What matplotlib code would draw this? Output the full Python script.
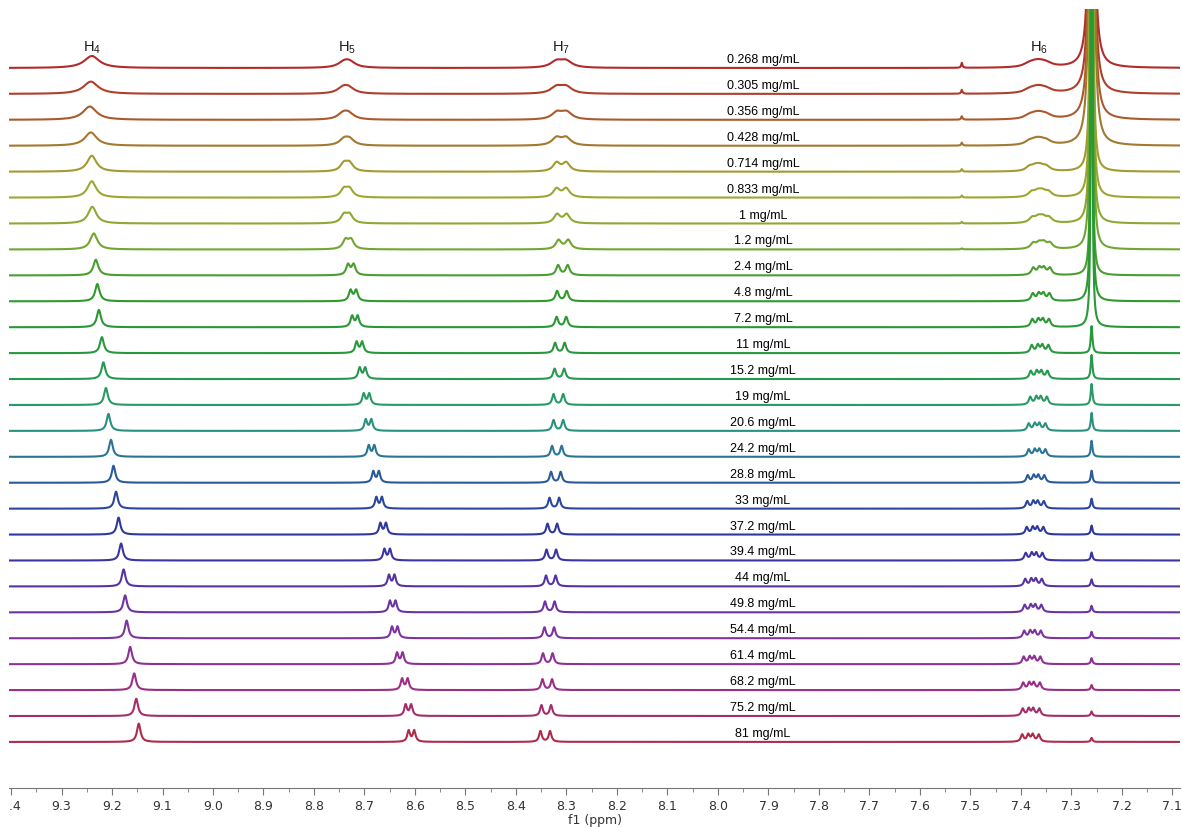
import numpy as np
import matplotlib
matplotlib.use("Agg")
import matplotlib.pyplot as plt
from matplotlib.patches import Rectangle
from matplotlib.ticker import MultipleLocator, FormatStrFormatter

plt.rcParams['mathtext.default'] = 'regular'

# concentration of each trace, top to bottom
conc = ["0.268", "0.305", "0.356", "0.428", "0.714", "0.833", "1", "1.2", "2.4",
        "4.8", "7.2", "11", "15.2", "19", "20.6", "24.2", "28.8", "33", "37.2",
        "39.4", "44", "49.8", "54.4", "61.4", "68.2", "75.2", "81"]

# chemical shifts (ppm)
h4_ppm = [9.240, 9.242, 9.244, 9.242, 9.240, 9.240, 9.239, 9.236, 9.232, 9.229,
          9.226, 9.220, 9.217, 9.212, 9.207, 9.202, 9.197, 9.192, 9.187, 9.182,
          9.177, 9.174, 9.171, 9.164, 9.156, 9.152, 9.147]
h5_ppm = [8.735, 8.737, 8.737, 8.735, 8.735, 8.735, 8.735, 8.732, 8.727, 8.722,
          8.719, 8.710, 8.704, 8.696, 8.692, 8.686, 8.677, 8.671, 8.663, 8.655,
          8.646, 8.644, 8.640, 8.630, 8.620, 8.613, 8.607]
h7_ppm = [8.310, 8.310, 8.309, 8.310, 8.310, 8.310, 8.309, 8.306, 8.307, 8.309,
          8.310, 8.313, 8.314, 8.316, 8.316, 8.319, 8.321, 8.324, 8.328, 8.330,
          8.331, 8.333, 8.334, 8.337, 8.338, 8.340, 8.342]
h6_ppm = [7.366, 7.366, 7.366, 7.366, 7.366, 7.362, 7.361, 7.359, 7.359, 7.360,
          7.361, 7.362, 7.364, 7.365, 7.368, 7.368, 7.370, 7.371, 7.372, 7.374,
          7.375, 7.376, 7.377, 7.378, 7.379, 7.380, 7.381]

# peak width (FWHM, ppm) of each trace
fwhm = [0.028, 0.027, 0.025, 0.022, 0.017, 0.016, 0.015, 0.013, 0.009, 0.008,
        0.0075, 0.007, 0.007, 0.0068, 0.0067, 0.0066, 0.0065, 0.0065, 0.0065,
        0.0065, 0.0065, 0.0065, 0.0065, 0.0065, 0.0065, 0.0065, 0.0065]

# peak heights (same units as the trace spacing)
h4_height = [12, 12.3, 13.3, 13.3, 16, 16.3, 16.7, 16, 15.7, 17.3, 17.3, 16, 16.7,
             17, 17, 17, 17, 17, 17, 17, 17, 17, 17.7, 17.3, 16.7, 17.3, 18.3]
h5_height = [8.7, 9, 9.3, 9.3, 11, 11, 11, 11.5] + [12] * 19
h7_height = [8.7, 9, 9.3, 9.5, 10, 10, 10, 10, 10.5, 10.5, 10.5, 10.5, 10.5] + [11] * 14
h6_height = [8.3, 8.3, 8.3, 8.3, 8.5, 9, 9, 9] + [9.3] * 6 + [8.5] * 13
chcl3_height = [2500, 2500, 2500, 2500, 1800, 1800, 1800, 1800, 900, 900, 700,
                27, 24, 21, 18, 16, 12, 10, 9, 8, 7, 6.5, 6.5, 6, 5, 4.5, 4]
chcl3_fwhm = [0.0035] * 4 + [0.0025] * 7 + [0.004] * 16
small_height = [5, 4, 3.5, 3, 2.5, 2, 1.5, 1] + [0] * 19

# coupling patterns (offsets from centre, ppm)
h5_lines = [-0.0055, 0.0055]
h7_lines = [-0.0095, 0.0095]
h6_lines = [-0.0165, -0.0045, 0.0045, 0.0165]

colors = ["#b22b2b", "#ad3f2b", "#aa5b2d", "#a3782f", "#a39a30", "#9ea631", "#8ea833",
          "#72a633", "#4a9e2f", "#2f9a2d", "#2a9834", "#28983e", "#27984f", "#289a66",
          "#2a9080", "#2a7594", "#2a5a9a", "#2b469c", "#2d389e", "#3c34a0", "#5534a2",
          "#6a34a2", "#7e33a0", "#8e3196", "#9a2f86", "#a22e6c", "#ad2c4a"]


def lorentz(x, x0, w):
    return (w / 2) ** 2 / ((x - x0) ** 2 + (w / 2) ** 2)


def multiplet(x, center, offsets, w, height):
    s = sum(lorentz(x, center + o, w) for o in offsets)
    return height * s / s.max()


x = np.linspace(7.085, 9.404, 9000)

fig = plt.figure(figsize=(11.82, 8.28), dpi=100)
ax = fig.add_axes([9 / 1182, 39 / 828, 1171 / 1182, 779 / 828])
ax.set_xlim(9.404, 7.085)
ax.set_ylim(0, 779)

step = 25.92
for i in range(len(conc)):
    base = 720 - step * i
    w = fwhm[i]
    y = (h4_height[i] * lorentz(x, h4_ppm[i], w * 1.3)
         + multiplet(x, h5_ppm[i], h5_lines, w, h5_height[i])
         + multiplet(x, h7_ppm[i], h7_lines, w, h7_height[i])
         + multiplet(x, h6_ppm[i], h6_lines, w, h6_height[i])
         + chcl3_height[i] * lorentz(x, 7.26, chcl3_fwhm[i])
         + small_height[i] * lorentz(x, 7.517, 0.003))
    ax.plot(x, base + y, color=colors[i], lw=1.5)
    ax.text(7.911, base + 9, conc[i] + " mg/mL", ha="center", va="center",
            fontsize=9, family="Liberation Sans", color="black")

# proton labels
for lab, pos in [("H$_4$", 9.24), ("H$_5$", 8.735), ("H$_7$", 8.31), ("H$_6$", 7.365)]:
    ax.text(pos, 741, lab, ha="center", va="center", fontsize=10.5,
            family="Liberation Sans", color="#1a1a1a")

for s in ["left", "right", "top"]:
    ax.spines[s].set_visible(False)
ax.spines["bottom"].set_color("#777777")
ax.set_yticks([])
ax.xaxis.set_major_locator(MultipleLocator(0.1))
ax.xaxis.set_minor_locator(MultipleLocator(0.05))
ax.xaxis.set_major_formatter(FormatStrFormatter("%.1f"))
ax.tick_params(axis="x", which="major", direction="out", length=5, color="#777777",
               labelsize=9, labelcolor="#333333", pad=3)
ax.tick_params(axis="x", which="minor", direction="out", length=3, color="#777777")
ax.set_xlabel("f1 (ppm)", fontsize=9, color="#333333", labelpad=1)

# the original picture is cropped at the left edge, cutting the first tick label
fig.add_artist(Rectangle((0, 10 / 828), 8 / 1182, 24 / 828, transform=fig.transFigure,
                         color="white", zorder=10))

fig.savefig("out.png", dpi=100)
